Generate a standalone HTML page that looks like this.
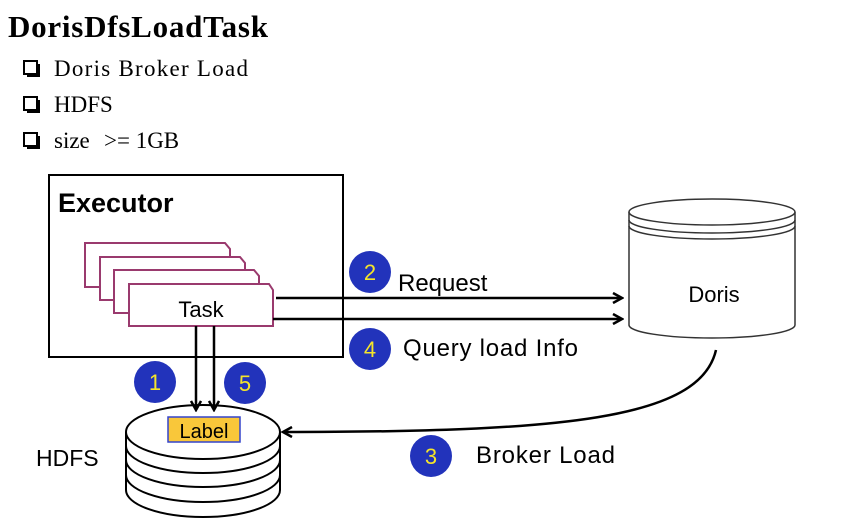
<!DOCTYPE html>
<html><head><meta charset="utf-8"><style>
html,body{margin:0;padding:0;background:#fff;}
</style></head><body>
<svg width="864" height="520" xmlns="http://www.w3.org/2000/svg" font-family="Liberation Sans, sans-serif">
<defs>
<marker id="ah" markerWidth="12" markerHeight="12" refX="10" refY="6" orient="auto" markerUnits="userSpaceOnUse">
<path d="M1,1 L10,6 L1,11" fill="none" stroke="#000" stroke-width="2.5"/>
</marker>
</defs>
<text x="8" y="37" font-family="Liberation Serif, serif" font-weight="bold" font-size="31" textLength="260">DorisDfsLoadTask</text>
<g font-family="Liberation Serif, serif" font-size="23">
<rect x="24" y="61" width="13" height="13" fill="none" stroke="#000" stroke-width="2"/><rect x="27" y="74" width="13" height="3" fill="#000"/><rect x="37" y="64" width="3" height="13" fill="#000"/>
<text x="54" y="76" textLength="194">Doris Broker Load</text>
<rect x="24" y="97" width="13" height="13" fill="none" stroke="#000" stroke-width="2"/><rect x="27" y="110" width="13" height="3" fill="#000"/><rect x="37" y="100" width="3" height="13" fill="#000"/>
<text x="54" y="112">HDFS</text>
<rect x="24" y="133" width="13" height="13" fill="none" stroke="#000" stroke-width="2"/><rect x="27" y="146" width="13" height="3" fill="#000"/><rect x="37" y="136" width="3" height="13" fill="#000"/>
<text x="54" y="148">size</text><text x="104" y="148">&gt;= 1GB</text>
</g>
<rect x="49" y="175" width="294" height="182" fill="#fff" stroke="#000" stroke-width="2"/>
<text x="58" y="212" font-size="27" font-weight="bold">Executor</text>
<g fill="#fff" stroke="#9a3a6e" stroke-width="2">
<path d="M85,243 H225 L230,249 V287 H85 Z"/>
<path d="M100,257 H240 L245,263 V300 H100 Z"/>
<path d="M114,270 H254 L259,276 V313 H114 Z"/>
<path d="M129,284 H269 L273,290 V326 H129 Z"/>
</g>
<text x="201" y="317" font-size="22" text-anchor="middle">Task</text>
<path d="M629,212 V325 A83,13 0 0 0 795,325 V212" fill="#fff" stroke="#333" stroke-width="1.5"/>
<ellipse cx="712" cy="212" rx="83" ry="13" fill="#fff" stroke="#333" stroke-width="1.5"/>
<path d="M629,220 A83,13 0 0 0 795,220 M629,226 A83,13 0 0 0 795,226" fill="none" stroke="#333" stroke-width="1.5"/>
<text x="714" y="302" font-size="22" text-anchor="middle">Doris</text>
<g fill="#fff" stroke="#000" stroke-width="2">
<path d="M126,432 V490 A77,27 0 0 0 280,490 V432"/>
<path d="M126,475 A77,27 0 0 0 280,475" fill="none"/>
<path d="M126,460 A77,27 0 0 0 280,460" fill="none"/>
<path d="M126,446 A77,27 0 0 0 280,446" fill="none"/>
<ellipse cx="203" cy="432" rx="77" ry="27"/>
</g>
<rect x="168" y="417" width="72" height="25" fill="#f9c73a" stroke="#3344cc" stroke-width="1.5"/>
<text x="204" y="438" font-size="20" text-anchor="middle">Label</text>
<text x="36" y="466" font-size="23">HDFS</text>
<g stroke="#000" stroke-width="2.5" fill="none" marker-end="url(#ah)">
<line x1="196" y1="326" x2="196" y2="410"/>
<line x1="214" y1="326" x2="214" y2="410"/>
<line x1="276" y1="298" x2="622" y2="298"/>
<line x1="273" y1="319" x2="622" y2="319"/>
<path d="M716,350 C700,420 560,432 283,432"/>
</g>
<g font-size="24">
<g font-size="22">
<circle cx="155" cy="382" r="21" fill="#2233bb"/><text x="155" y="390" fill="#f5e52a" text-anchor="middle">1</text>
<circle cx="245" cy="383" r="21" fill="#2233bb"/><text x="245" y="391" fill="#f5e52a" text-anchor="middle">5</text>
<circle cx="370" cy="272" r="21" fill="#2233bb"/><text x="370" y="280" fill="#f5e52a" text-anchor="middle">2</text>
<circle cx="370" cy="349" r="21" fill="#2233bb"/><text x="370" y="357" fill="#f5e52a" text-anchor="middle">4</text>
<circle cx="431" cy="456" r="21" fill="#2233bb"/><text x="431" y="464" fill="#f5e52a" text-anchor="middle">3</text>
</g>
<text x="398" y="291">Request</text>
<text x="403" y="356" textLength="175">Query load Info</text>
<text x="476" y="463" textLength="139">Broker Load</text>
</g>
</svg>
</body></html>
